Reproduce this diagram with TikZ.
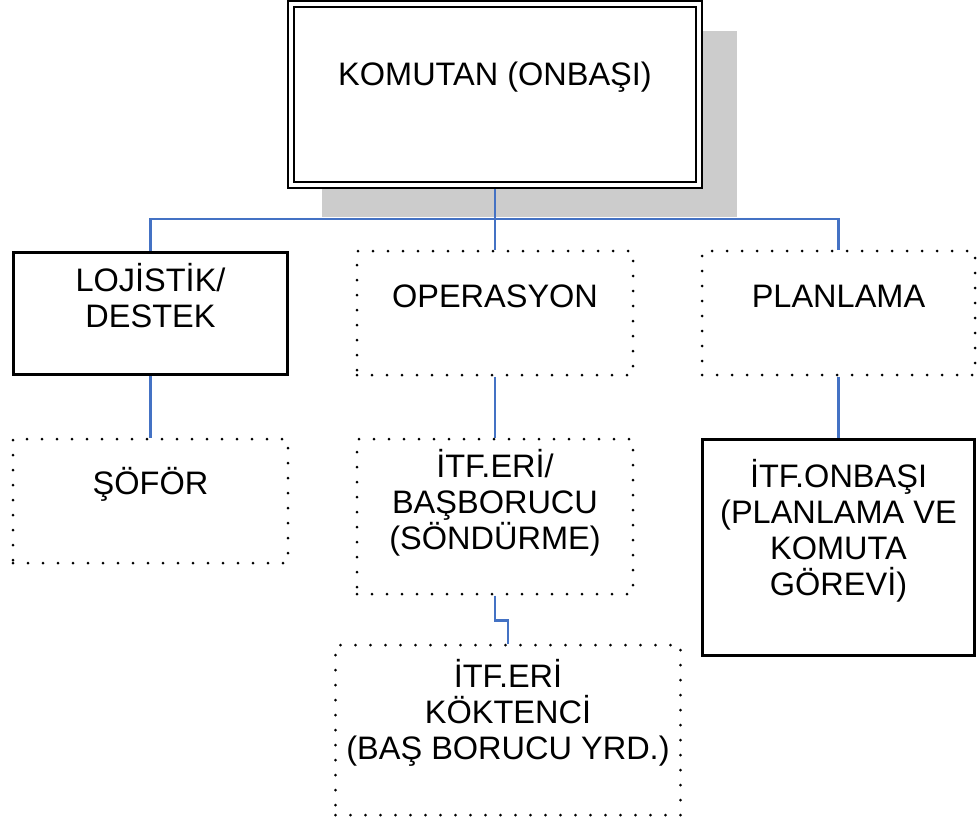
\documentclass[tikz,border=0pt]{standalone}
\usepackage{fontspec}
\setmainfont{Liberation Sans}
\usetikzlibrary{positioning,calc,backgrounds}
\definecolor{linkblue}{HTML}{4472C4}
\definecolor{shadowgray}{HTML}{CCCCCC}
\tikzset{
  solidbox/.style={draw,line width=3pt,fill=white,inner sep=0pt},
  dotbox/.style={draw,line width=3pt,line cap=round,dash pattern=on 0pt off 15pt,fill=white,inner sep=0pt},
  headbox/.style={draw,line width=2.6pt,double,double distance=3.2pt,fill=white,inner sep=0pt},
  link/.style={draw=linkblue,line width=2.3pt},
  boxtext/.style={align=center,font=\fontsize{32.5}{36}\selectfont,inner sep=0pt}
}

\begin{document}
\begin{tikzpicture}[x=1pt,y=-1pt]
    \useasboundingbox (0,0) rectangle (977,820);

    % boxes
    \node[headbox,minimum width=408pt,minimum height=181pt] (komutan) at (495,94.5) {};
    \node[solidbox,minimum width=274pt,minimum height=122pt] (lojistik) at (150.5,313.5) {};
    \node[dotbox,minimum width=276pt,minimum height=124pt] (operasyon) at (495,313) {};
    \node[dotbox,minimum width=273pt,minimum height=124pt] (planlama) at (838.5,313) {};
    \node[dotbox,minimum width=275pt,minimum height=124pt] (sofor) at (150.5,501) {};
    \node[dotbox,minimum width=276pt,minimum height=155pt] (sondurme) at (495,516.5) {};
    \node[solidbox,minimum width=272pt,minimum height=216pt] (onbasi) at (838.5,547.5) {};
    \node[dotbox,minimum width=345pt,minimum height=170pt] (koktenci) at (508,730) {};

    % texts
    \node[boxtext] (komutan-t) at ([yshift=17pt]komutan.center) {KOMUTAN (ONBAŞI)};
    \node[boxtext] (lojistik-t) at ([yshift=18pt]lojistik.center) {LOJİSTİK/\\DESTEK};
    \node[boxtext] (operasyon-t) at ([yshift=17pt]operasyon.center) {OPERASYON};
    \node[boxtext] (planlama-t) at ([yshift=17pt]planlama.center) {PLANLAMA};
    \node[boxtext] (sofor-t) at ([yshift=17pt]sofor.center) {ŞÖFÖR};
    \node[boxtext] (sondurme-t) at ([yshift=14pt]sondurme.center) {İTF.ERİ/\\BAŞBORUCU\\(SÖNDÜRME)};
    \node[boxtext] (onbasi-t) at ([yshift=17pt]onbasi.center) {İTF.ONBAŞI\\(PLANLAMA VE\\KOMUTA\\GÖREVİ)};
    \node[boxtext] (koktenci-t) at ([yshift=17pt]koktenci.center) {İTF.ERİ\\KÖKTENCİ\\(BAŞ BORUCU YRD.)};

    \coordinate (bus) at (495,219);

    \begin{scope}[on background layer]
      \fill[shadowgray] (322,31) rectangle (737,217);
      \draw[link] (komutan.south) -- (operasyon.north);
      \draw[link] (lojistik.north) |- (bus) -| (planlama.north);
      \draw[link] (lojistik.south) -- (sofor.north);
      \draw[link] (operasyon.south) -- (sondurme.north);
      \draw[link] (planlama.south) -- (onbasi.north);
      \draw[link] (sondurme.south) -- ++(0,25) -| (koktenci.north);
    \end{scope}
\end{tikzpicture}
\end{document}
